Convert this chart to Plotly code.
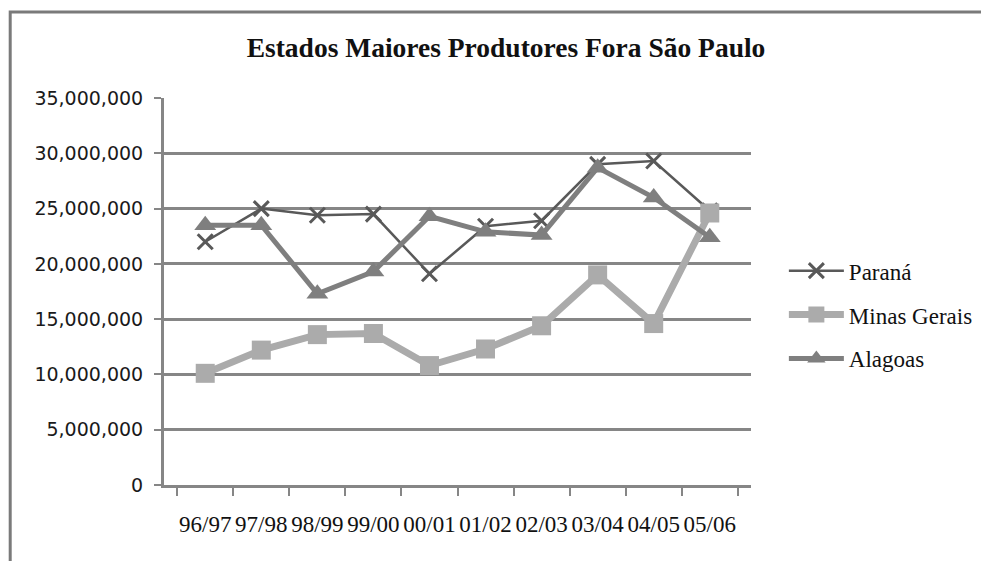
import plotly.graph_objects as go

safras = ["96/97", "97/98", "98/99", "99/00", "00/01", "01/02", "02/03", "03/04", "04/05", "05/06"]
parana = [22.0e6, 25.0e6, 24.4e6, 24.5e6, 19.1e6, 23.4e6, 23.9e6, 29.0e6, 29.3e6, 24.8e6]
minas_gerais = [10.1e6, 12.2e6, 13.6e6, 13.7e6, 10.8e6, 12.3e6, 14.4e6, 19.0e6, 14.6e6, 24.6e6]
alagoas = [23.5e6, 23.5e6, 17.3e6, 19.3e6, 24.3e6, 22.9e6, 22.6e6, 28.7e6, 26.0e6, 22.4e6]

GRID = "#868686"

# a página tem margem de 8px no body: a figura é deslocada para compensar
W, H = 981, 553

fig = go.Figure()
fig.add_trace(go.Scatter(
    x=safras, y=parana, name="Paraná", mode="lines+markers", legendgroup="a",
    line=dict(color="#595959", width=2.5),
    marker=dict(symbol="x-thin", size=15, color="#595959", line=dict(width=3, color="#595959")),
))
fig.add_trace(go.Scatter(
    x=safras, y=minas_gerais, name="Minas Gerais", mode="lines+markers", legendgroup="b",
    line=dict(color="#ababab", width=7),
    marker=dict(symbol="square", size=19, color="#ababab"),
))
fig.add_trace(go.Scatter(
    x=safras, y=alagoas, name="Alagoas", mode="lines+markers", legendgroup="c",
    line=dict(color="#7f7f7f", width=5),
    marker=dict(symbol="triangle-up", size=19, color="#7f7f7f"),
))

fig.update_layout(
    width=W, height=H,
    margin=dict(l=156, r=238, t=90, b=76, autoexpand=False),
    paper_bgcolor="white", plot_bgcolor="white",
    title=dict(
        text="<b>Estados Maiores Produtores Fora São Paulo</b>",
        x=498 / W, xanchor="center", xref="container", y=1 - 39 / H, yanchor="middle",
        font=dict(family="Liberation Serif", size=27.5, color="#111111"),
    ),
    legend=dict(
        x=1.056, y=0.44, xanchor="left", yanchor="middle",
        font=dict(family="Liberation Serif", size=23, color="#111111"),
        itemwidth=55, tracegroupgap=11, bgcolor="rgba(0,0,0,0)",
    ),
    showlegend=True,
)
fig.update_xaxes(
    type="category", tickson="boundaries", ticks="outside", ticklen=8, tickwidth=2,
    tickcolor=GRID, showline=True, linecolor=GRID, linewidth=3, showgrid=False,
    tickfont=dict(family="Liberation Serif", size=23, color="#111111"),
    tickangle=0, ticklabelstandoff=16, automargin=False,
)
fig.update_yaxes(
    range=[0, 35e6], dtick=5e6, tickformat=",d", ticks="outside", ticklen=7, tickwidth=2,
    tickcolor=GRID, showline=True, linecolor=GRID, linewidth=3,
    showgrid=True, gridcolor=GRID, gridwidth=3, zeroline=False,
    tickfont=dict(family="DejaVu Sans", size=19, color="#1a1a1a"),
    ticklabelstandoff=7, automargin=False,
)

# moldura do gráfico (parcialmente cortada na imagem original)
fig.add_shape(
    type="rect", xref="paper", yref="paper",
    x0=-0.262, x1=1.45, y0=-0.3, y1=1.222,
    line=dict(color="#7a7a7a", width=3), fillcolor="rgba(0,0,0,0)", layer="below",
)

fig.write_html("out.html")
